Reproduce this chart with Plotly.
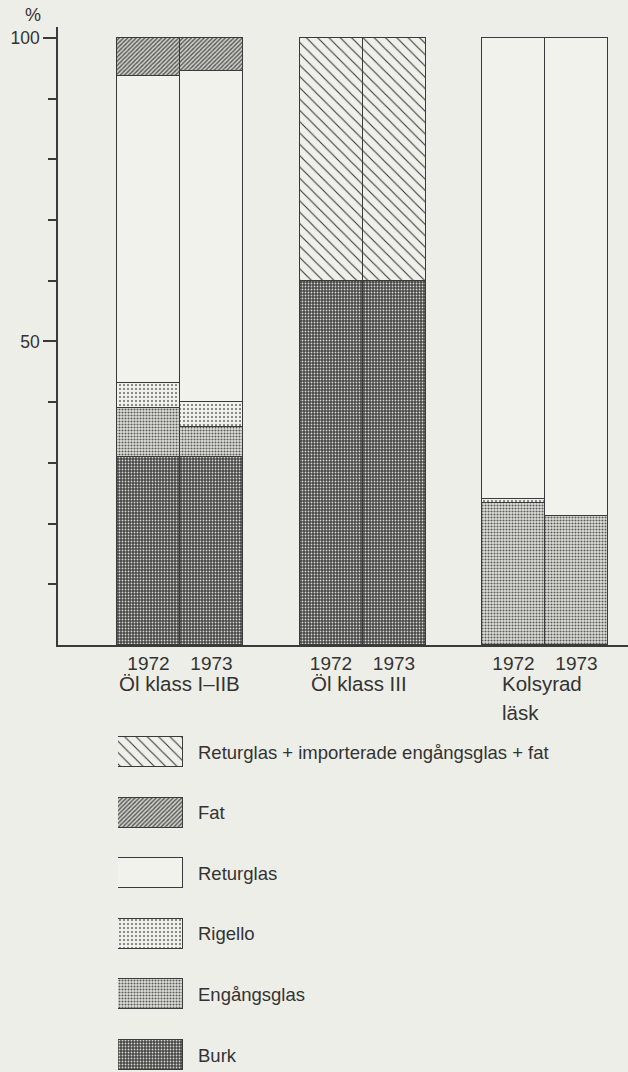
import plotly.graph_objects as go

# ---------------- data ----------------
groups = ["Öl klass I–IIB", "Öl klass III", "Kolsyrad", ]
group_line2 = ["", "", "läsk"]
years = ["1972", "1973"]
# bar order: (group1,1972), (group1,1973), (group2,1972), (group2,1973), (group3,1972), (group3,1973)
burk = [31.0, 31.0, 60.0, 60.0, None, None]
engangsglas = [8.0, 4.9, None, None, 23.4, 21.3]
rigello = [4.2, 4.1, None, None, 0.6, None]
returglas = [50.5, 54.6, None, None, 76.0, 78.7]
fat = [6.3, 5.4, None, None, None, None]
ret_imp_fat = [None, None, 40.0, 40.0, None, None]

series_names = ["Burk", "Engångsglas", "Rigello", "Returglas", "Fat",
                "Returglas + importerade engångsglas + fat"]
series_values = [burk, engangsglas, rigello, returglas, fat, ret_imp_fat]
legend_order = ["Returglas + importerade engångsglas + fat", "Fat", "Returglas",
                "Rigello", "Engångsglas", "Burk"]
y_tick_labels = {50: "50", 100: "100"}

# ---------------- styling ----------------
BG = "#eeeee8"
INK = "#3a3a3a"
TXT = "#333333"
FONT = "Liberation Sans"
styles = {
    "Burk": dict(shape=".", size=3, solidity=0.3, fgcolor="#d6d6d0", bgcolor="#454545"),
    "Engångsglas": dict(shape=".", size=3, solidity=0.4, fgcolor="#5a5a5a", bgcolor="#e2e2dc"),
    "Rigello": dict(shape=".", size=4, solidity=0.2, fgcolor="#666666", bgcolor="#f0f0ea"),
    "Returglas": dict(shape="", size=4, solidity=0.0, fgcolor="#f2f2ed", bgcolor="#f2f2ed"),
    "Fat": dict(shape="/", size=3, solidity=0.45, fgcolor="#555555", bgcolor="#d2d2cc"),
    "Returglas + importerade engångsglas + fat": dict(shape="\\", size=8, solidity=0.14,
                                                       fgcolor="#3a3a3a", bgcolor="#f0f0ea"),
}

W, H = 628, 1072
ax_left, ax_bottom, ax_top = 58, 645, 27
group_step = 182.5
first_boundary = 122
bar_w = 63

xs, texts = [], []
for g in range(len(groups)):
    for j in range(len(years)):
        xs.append(first_boundary + group_step * g + (j - 0.5) * bar_w)
        texts.append(years[j])

fig = go.Figure()
for name, vals in zip(series_names, series_values):
    st = styles[name]
    fig.add_trace(go.Bar(
        x=xs, y=vals, width=bar_w, name=name, showlegend=False,
        marker=dict(color=st["bgcolor"], line=dict(color=INK, width=1.5),
                    pattern=dict(shape=st["shape"], size=st["size"], solidity=st["solidity"],
                                 fgcolor=st["fgcolor"], bgcolor=st["bgcolor"], fillmode="replace")),
        hoverinfo="skip",
    ))

# legend patches drawn as bars on a separate axis pair
for i, name in enumerate(legend_order):
    st = styles[name]
    fig.add_trace(go.Bar(
        x=[1], y=[i], orientation="h", width=0.495, xaxis="x2", yaxis="y2", showlegend=False,
        marker=dict(color=st["bgcolor"], line=dict(color=INK, width=1.5),
                    pattern=dict(shape=st["shape"], size=st["size"], solidity=st["solidity"],
                                 fgcolor=st["fgcolor"], bgcolor=st["bgcolor"], fillmode="replace")),
        hoverinfo="skip",
    ))
    fig.add_annotation(xref="paper", yref="y2", x=196 / W, y=i, text=name, showarrow=False,
                       xanchor="left", yanchor="middle", font=dict(family=FONT, size=18.5, color=TXT))

fig.update_layout(
    width=W, height=H, margin=dict(l=0, r=0, t=0, b=0),
    paper_bgcolor=BG, plot_bgcolor=BG, barmode="stack", bargap=0,
    font=dict(family=FONT, color=TXT),
    xaxis=dict(domain=[ax_left / W, 1], range=[0, W - ax_left], showline=True, linecolor=INK,
               linewidth=1.5, showgrid=False, zeroline=False, tickmode="array", tickvals=xs,
               ticktext=texts, ticks="", tickfont=dict(size=19, color=TXT), anchor="y"),
    yaxis=dict(domain=[1 - ax_bottom / H, 1 - ax_top / H], range=[0, 101.8], showline=True,
               linecolor=INK, linewidth=1.5, showgrid=False, zeroline=False, tickmode="array",
               tickvals=list(y_tick_labels.keys()), ticktext=list(y_tick_labels.values()),
               ticks="outside", ticklen=13, tickwidth=1.5, tickcolor=INK,
               tickfont=dict(size=17.5, color=TXT),
               minor=dict(tickmode="array", tickvals=[10, 20, 30, 40, 60, 70, 80, 90],
                          ticks="outside", ticklen=8, tickwidth=1.5, tickcolor=INK),
               anchor="x"),
    xaxis2=dict(domain=[118 / W, 183 / W], range=[0, 1], visible=False, anchor="y2"),
    yaxis2=dict(domain=[0, 342 / H], range=[5.28, -0.363], visible=False, anchor="x2"),
)

fig.add_annotation(xref="paper", yref="paper", x=33 / W, y=1 - 15 / H, text="%", showarrow=False,
                   xanchor="center", yanchor="middle", font=dict(family=FONT, size=18, color=TXT))
label_shift = [-63, -54, -45]
for g, (l1, l2) in enumerate(zip(groups, group_line2)):
    bx = first_boundary + group_step * g + label_shift[g]
    fig.add_annotation(xref="x", yref="paper", x=bx, y=1 - 683 / H, text=l1, showarrow=False,
                       xanchor="left", yanchor="middle", font=dict(family=FONT, size=20.5, color=TXT))
    if l2:
        fig.add_annotation(xref="x", yref="paper", x=bx, y=1 - 712 / H, text=l2, showarrow=False,
                           xanchor="left", yanchor="middle", font=dict(family=FONT, size=20.5, color=TXT))

fig.write_html("out.html", config={"displayModeBar": False},
               post_script="document.body.style.margin='0';document.body.style.background='%s';" % BG)
